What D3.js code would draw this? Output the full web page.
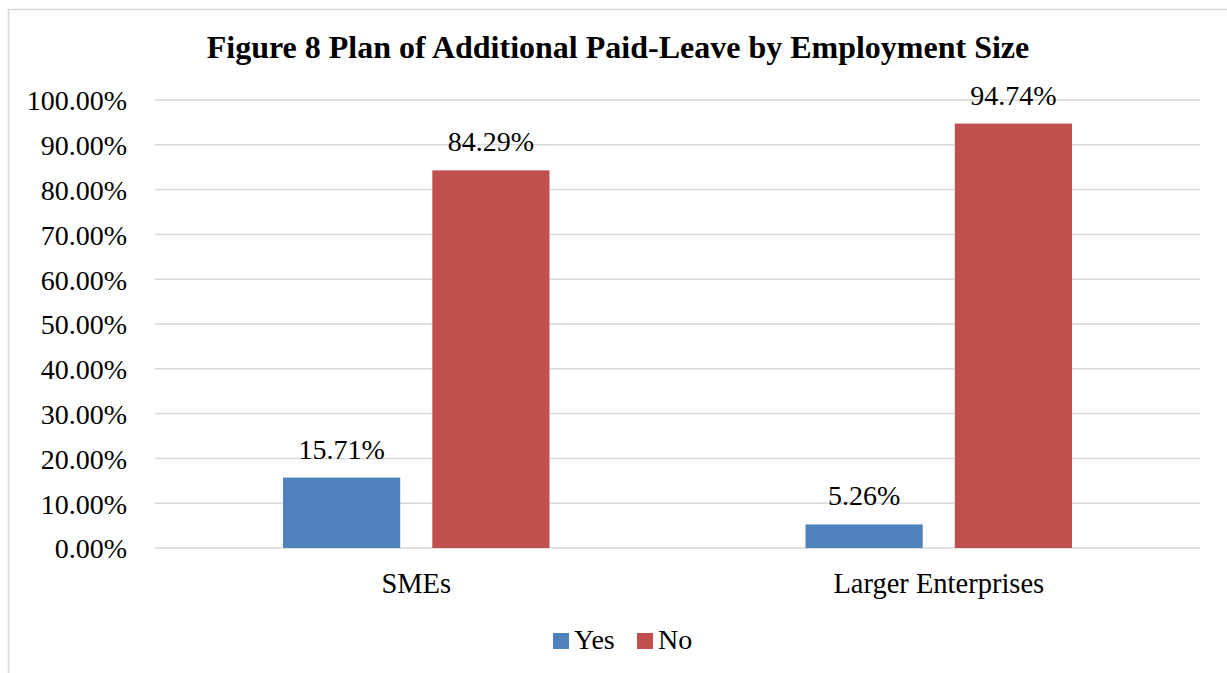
<!DOCTYPE html>
<html><head><meta charset="utf-8">
<script src="https://cdn.jsdelivr.net/npm/d3@7"></script>
<style>body{margin:0;background:#fff}svg{display:block}</style>
</head><body><svg id="c" width="1227" height="673" font-family="Liberation Serif, Times New Roman, serif"></svg>
<script>
const categories = ["SMEs", "Larger Enterprises"];
const seriesNames = ["Yes", "No"];
const yesValues = [15.71, 5.26];
const noValues = [84.29, 94.74];
const yTicks = [0,10,20,30,40,50,60,70,80,90,100];
const colors = {Yes:"#4F81BD", No:"#C0504D"};
const title = "Figure 8 Plan of Additional Paid-Leave by Employment Size";
const FF = "Liberation Serif, Times New Roman, serif";

const svg = d3.select("#c");
svg.append("rect").attr("x",8.5).attr("y",9.5).attr("width",1240).attr("height",700)
  .attr("fill","none").attr("stroke","#D9D9D9").attr("stroke-width",1.5);

const L=155, R=1200, T=100, B=548;
const x0 = d3.scaleBand().domain(categories).range([L,R]);
const x1 = d3.scaleBand().domain(seriesNames).range([128, x0.bandwidth()-128]).paddingInner(0.215).paddingOuter(0);
const y = d3.scaleLinear().domain([0,100]).range([B,T]);

svg.append("text").attr("x",618).attr("y",58).attr("text-anchor","middle").attr("font-family",FF)
  .attr("font-weight","bold").attr("font-size",32).text(title);

svg.append("g").selectAll("line").data(yTicks).join("line")
  .attr("x1",L).attr("x2",R).attr("y1",d=>y(d)).attr("y2",d=>y(d))
  .attr("stroke","#D9D9D9").attr("stroke-width",1.5);

const yAxis = d3.axisLeft(y).tickValues(yTicks).tickSize(0).tickPadding(0).tickFormat(d=>d.toFixed(2)+"%");
const ga = svg.append("g").attr("transform",`translate(${127},0)`).call(yAxis)
  .attr("font-family",FF).attr("font-size",28);
ga.select(".domain").remove();
ga.selectAll("text").attr("fill","#000").attr("dy","0.35em");

const data = categories.map((c,i)=>({cat:c, vals:[{s:"Yes",v:yesValues[i]},{s:"No",v:noValues[i]}]}));
const g = svg.append("g").selectAll("g").data(data).join("g").attr("transform",d=>`translate(${x0(d.cat)},0)`);
g.selectAll("rect").data(d=>d.vals).join("rect")
  .attr("x",d=>x1(d.s)).attr("width",x1.bandwidth())
  .attr("y",d=>y(d.v)).attr("height",d=>y(0)-y(d.v)).attr("fill",d=>colors[d.s]);
g.selectAll("text").data(d=>d.vals).join("text")
  .attr("x",d=>x1(d.s)+x1.bandwidth()/2).attr("y",d=>y(d.v)-19).attr("font-family",FF)
  .attr("text-anchor","middle").attr("font-size",28).text(d=>d.v.toFixed(2)+"%");

const xAxis = d3.axisBottom(x0).tickSize(0).tickPadding(0);
const gx = svg.append("g").attr("transform",`translate(0,${593})`).call(xAxis)
  .attr("font-family",FF).attr("font-size",28.5);
gx.select(".domain").remove();
gx.selectAll("text").attr("fill","#000").attr("dy","0");

const leg = svg.append("g");
const legX = [553, 637];
seriesNames.forEach((s,i)=>{
  leg.append("rect").attr("x",legX[i]).attr("y",633).attr("width",16).attr("height",16).attr("fill",colors[s]);
  leg.append("text").attr("x",legX[i]+21).attr("y",649).attr("font-family",FF).attr("font-size",28).text(s);
});
</script></body></html>
